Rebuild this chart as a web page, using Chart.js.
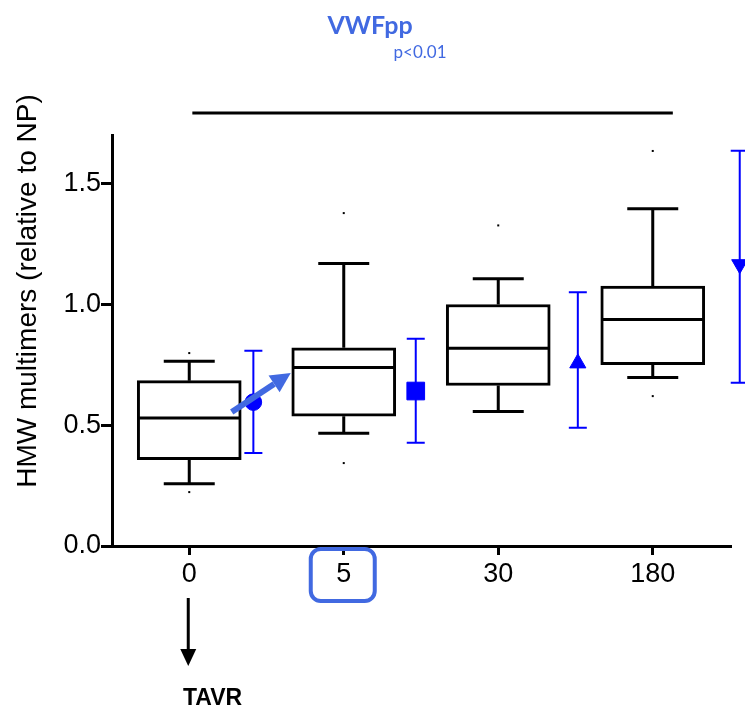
<!DOCTYPE html>
<html>
<head>
<meta charset="utf-8">
<script src="https://cdn.jsdelivr.net/npm/chart.js@4.4.1/dist/chart.umd.min.js"></script>
<style>
  body { margin: 0; background: #fff; }
  canvas { display: block; }
</style>
</head>
<body>
<canvas id="myChart" width="745" height="707"></canvas>
<script>
// days after TAVR
const timeLabels = ["0", "5", "30", "180"];

// HMW multimers box plots
const boxLow = [0.257, 0.466, 0.556, 0.697];
const boxQ1 = [0.357, 0.537, 0.664, 0.750];
const boxMedian = [0.529, 0.738, 0.818, 0.937];
const boxQ3 = [0.684, 0.820, 0.999, 1.075];
const boxHigh = [0.764, 1.169, 1.105, 1.395];
const outlierHigh = [0.798, 1.377, 1.326, 1.634];
const outlierLow = [0.223, 0.343, null, 0.620];

// VWFpp mean and range
const vwfMean = [0.595, 0.641, 0.756, 1.165];
const vwfLow = [0.385, 0.427, 0.489, 0.675];
const vwfHigh = [0.808, 0.857, 1.050, 1.635];

const yTicks = [0, 0.5, 1.0, 1.5];

const blue = "#0000ff";
const royal = "#4169e1";
const font = "'Liberation Sans', Arial, sans-serif";
const markerShift = [0.415, 0.466, 0.515, 0.563];

const boxPlugin = {
  id: "boxes",
  afterDatasetsDraw(chart) {
    const ctx = chart.ctx;
    const x = chart.scales.x;
    const y = chart.scales.y;
    ctx.save();
    ctx.strokeStyle = "#000";
    ctx.lineWidth = 3;
    ctx.lineCap = "butt";
    for (let i = 0; i < timeLabels.length; i++) {
      const cx = x.getPixelForValue(i);
      const half = x.getPixelForValue(i + 0.333) - cx;
      const cap = x.getPixelForValue(i + 0.165) - cx;
      ctx.beginPath();
      // median
      ctx.moveTo(cx - half, y.getPixelForValue(boxMedian[i]));
      ctx.lineTo(cx + half, y.getPixelForValue(boxMedian[i]));
      // whiskers
      ctx.moveTo(cx, y.getPixelForValue(boxQ3[i]));
      ctx.lineTo(cx, y.getPixelForValue(boxHigh[i]));
      ctx.moveTo(cx, y.getPixelForValue(boxQ1[i]));
      ctx.lineTo(cx, y.getPixelForValue(boxLow[i]));
      ctx.moveTo(cx - cap, y.getPixelForValue(boxHigh[i]));
      ctx.lineTo(cx + cap, y.getPixelForValue(boxHigh[i]));
      ctx.moveTo(cx - cap, y.getPixelForValue(boxLow[i]));
      ctx.lineTo(cx + cap, y.getPixelForValue(boxLow[i]));
      ctx.stroke();
      ctx.fillStyle = "#000";
      [outlierHigh[i], outlierLow[i]].forEach((v) => {
        if (v === null) return;
        ctx.fillRect(cx - 1, y.getPixelForValue(v) - 1, 2, 2);
      });
    }
    // VWFpp error bars
    ctx.strokeStyle = blue;
    ctx.lineWidth = 2;
    for (let i = 0; i < vwfMean.length; i++) {
      const ex = x.getPixelForValue(i + markerShift[i]);
      const top = y.getPixelForValue(vwfHigh[i]);
      const bot = y.getPixelForValue(vwfLow[i]);
      ctx.beginPath();
      ctx.moveTo(ex, top);
      ctx.lineTo(ex, bot);
      ctx.moveTo(ex - 9, top);
      ctx.lineTo(ex + 9, top);
      ctx.moveTo(ex - 9, bot);
      ctx.lineTo(ex + 9, bot);
      ctx.stroke();
    }
    ctx.restore();
  },
  afterDraw(chart) {
    const ctx = chart.ctx;
    const x = chart.scales.x;
    const y = chart.scales.y;
    ctx.save();

    // titles
    ctx.fillStyle = royal;
    ctx.textAlign = "center";
    ctx.textBaseline = "alphabetic";
    ctx.font = "bold 25px Lato, 'Open Sans', sans-serif";
    ctx.fillText("VWFpp", 370, 34);
    ctx.font = "17px Lato, 'Open Sans', sans-serif";
    ctx.fillText("p<0.01", 420, 58);

    // bracket line
    ctx.strokeStyle = "#000";
    ctx.lineWidth = 3;
    ctx.beginPath();
    ctx.moveTo(x.getPixelForValue(0.02), 113);
    ctx.lineTo(x.getPixelForValue(3.13), 113);
    ctx.stroke();

    // y axis title
    ctx.save();
    ctx.translate(28, 291);
    ctx.rotate(-Math.PI / 2);
    ctx.fillStyle = "#000";
    ctx.font = "28px " + font;
    ctx.textAlign = "center";
    ctx.textBaseline = "middle";
    ctx.fillText("HMW multimers (relative to NP)", 0, 0);
    ctx.restore();

    // arrow circle -> day 5 box
    const ax0 = x.getPixelForValue(0.275), ay0 = y.getPixelForValue(0.554);
    const ax1 = x.getPixelForValue(0.657), ay1 = y.getPixelForValue(0.716);
    const ang = Math.atan2(ay1 - ay0, ax1 - ax0);
    const headLen = 20, headW = 10;
    const bx = ax1 - headLen * Math.cos(ang), by = ay1 - headLen * Math.sin(ang);
    ctx.strokeStyle = royal;
    ctx.fillStyle = royal;
    ctx.lineWidth = 6;
    ctx.beginPath();
    ctx.moveTo(ax0, ay0);
    ctx.lineTo(bx, by);
    ctx.stroke();
    ctx.beginPath();
    ctx.moveTo(ax1, ay1);
    ctx.lineTo(bx + headW * Math.sin(ang), by - headW * Math.cos(ang));
    ctx.lineTo(bx - headW * Math.sin(ang), by + headW * Math.cos(ang));
    ctx.closePath();
    ctx.fill();

    // highlight box around "5"
    const t5 = x.getPixelForValue(1);
    ctx.lineWidth = 4;
    ctx.beginPath();
    ctx.roundRect(t5 - 33, 549, 64, 52, 10);
    ctx.stroke();

    // TAVR arrow
    const t0 = x.getPixelForValue(0) - 1;
    ctx.strokeStyle = "#000";
    ctx.fillStyle = "#000";
    ctx.lineWidth = 3;
    ctx.beginPath();
    ctx.moveTo(t0, 598);
    ctx.lineTo(t0, 652);
    ctx.stroke();
    ctx.beginPath();
    ctx.moveTo(t0 - 8, 649);
    ctx.lineTo(t0 + 8, 649);
    ctx.lineTo(t0, 666);
    ctx.closePath();
    ctx.fill();
    ctx.font = "bold 23px " + font;
    ctx.textAlign = "left";
    ctx.textBaseline = "alphabetic";
    ctx.fillText("TAVR", 183, 705);

    ctx.restore();
  },
};

const config = {
  data: {
    datasets: [
      {
        type: "bar",
        data: timeLabels.map((t, i) => ({ x: i, y: [boxQ1[i], boxQ3[i]] })),
        backgroundColor: "#fff",
        borderColor: "#000",
        borderWidth: 3,
        borderSkipped: false,
        barThickness: 104,
      },
      {
        type: "scatter",
        data: vwfMean.map((v, i) => ({ x: i + markerShift[i], y: v })),
        backgroundColor: blue,
        borderColor: blue,
        pointStyle: ["circle", "rect", "triangle", "triangle"],
        pointRotation: [0, 0, 0, 180],
        pointRadius: [8.3, 12.5, 9.3, 9.3],
        clip: false,
      },
    ],
  },
  options: {
    responsive: false,
    animation: false,
    devicePixelRatio: 1,
    layout: { padding: { top: 135, right: 15, bottom: 0, left: 0 } },
    plugins: { legend: { display: false }, tooltip: { enabled: false } },
    scales: {
      x: {
        type: "linear",
        min: -0.5,
        max: 3.5,
        offset: false,
        afterBuildTicks: (s) => {
          s.ticks = timeLabels.map((t, i) => ({ value: i }));
        },
        afterFit: (s) => {
          s.height = 161;
        },
        border: { display: true, color: "#000", width: 3 },
        grid: { offset: false, drawOnChartArea: false, drawTicks: true, tickLength: 9, color: "#000", lineWidth: 3 },
        ticks: {
          color: "#000",
          font: { family: font, size: 27 },
          padding: 3,
          maxRotation: 0,
          callback: (v) => timeLabels[v],
        },
      },
      y: {
        type: "linear",
        min: 0,
        max: 1.7,
        afterBuildTicks: (s) => {
          s.ticks = yTicks.map((v) => ({ value: v }));
        },
        afterFit: (s) => {
          s.width = 112;
        },
        border: { display: true, color: "#000", width: 3 },
        grid: { drawOnChartArea: false, drawTicks: true, tickLength: 11, color: "#000", lineWidth: 3 },
        ticks: {
          color: "#000",
          font: { family: font, size: 27 },
          padding: 0,
          callback: (v) => v.toFixed(1),
        },
      },
    },
  },
  plugins: [boxPlugin],
};

const myChart = new Chart(document.getElementById("myChart"), config);
</script>
</body>
</html>
